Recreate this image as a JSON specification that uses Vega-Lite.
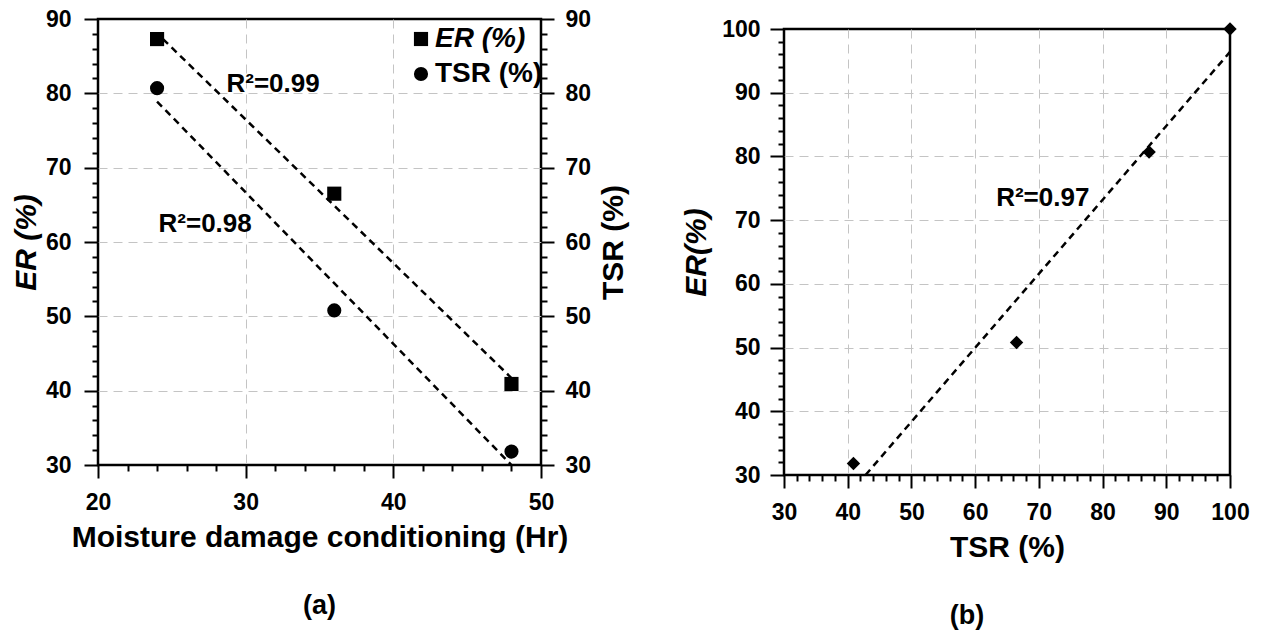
{
  "$schema": "https://vega.github.io/schema/vega-lite/v6.json",
  "background": "white",
  "padding": {"left": 10, "top": 6, "right": 5, "bottom": 5},
  "bounds": "flush",
  "spacing": 243,
  "config": {
    "font": "Liberation Sans",
    "view": {"stroke": "black", "strokeWidth": 2.5},
    "text": {"color": "black", "font": "Liberation Sans"},
    "axis": {
      "domain": false,
      "labelFont": "Liberation Sans", "labelFontSize": 23, "labelFontWeight": "bold", "labelColor": "black",
      "labelFlush": false, "labelOverlap": false,
      "titleFont": "Liberation Sans", "titleFontSize": 30, "titleFontWeight": "bold", "titleColor": "black",
      "tickColor": "black", "tickWidth": 2,
      "gridColor": "#c4c4c4", "gridDash": [9, 6], "gridWidth": 1
    }
  },
  "datasets": {
    "cond": [
      {"hr": 24, "series": "ER (%)", "value": 87.3},
      {"hr": 36, "series": "ER (%)", "value": 66.5},
      {"hr": 48, "series": "ER (%)", "value": 40.9},
      {"hr": 24, "series": "TSR (%)", "value": 80.7},
      {"hr": 36, "series": "TSR (%)", "value": 50.8},
      {"hr": 48, "series": "TSR (%)", "value": 31.8}
    ],
    "fitA": [
      {"hr": 24.4, "series": "ER", "value": 87.3},
      {"hr": 48, "series": "ER", "value": 41.7},
      {"hr": 24, "series": "TSR", "value": 78.9},
      {"hr": 48, "series": "TSR", "value": 30.0}
    ],
    "labelsA": [
      {"hr": 28.7, "value": 80.2, "text": "R²=0.99"},
      {"hr": 24.1, "value": 61.3, "text": "R²=0.98"}
    ],
    "pairs": [
      {"tsr": 40.9, "er": 31.8},
      {"tsr": 66.5, "er": 50.8},
      {"tsr": 87.3, "er": 80.7},
      {"tsr": 100, "er": 100}
    ],
    "fitB": [
      {"tsr": 42.8, "er": 30},
      {"tsr": 100, "er": 96.4}
    ],
    "labelB": [
      {"tsr": 63.3, "er": 72.2, "text": "R²=0.97"}
    ]
  },
  "hconcat": [
    {
      "width": 443, "height": 446,
      "title": {"text": "(a)", "orient": "bottom", "fontSize": 27, "fontWeight": "bold", "font": "Liberation Sans", "color": "black", "offset": 41},
      "layer": [
        {
          "data": {"name": "cond"},
          "mark": {"type": "point", "opacity": 0},
          "encoding": {
            "x": {"field": "hr", "type": "quantitative", "scale": {"domain": [20, 50], "nice": false, "zero": false},
              "axis": {"orient": "bottom", "grid": true, "values": [30, 40], "ticks": false, "labels": false, "domain": false, "title": null}},
            "y": {"field": "value", "type": "quantitative", "scale": {"domain": [30, 90], "nice": false, "zero": false},
              "axis": {"orient": "left", "grid": true, "values": [40, 50, 60, 70, 80], "ticks": false, "labels": false, "domain": false, "title": null}}
          }
        },
        {
          "encoding": {
            "x": {"field": "hr", "type": "quantitative", "scale": {"domain": [20, 50], "nice": false, "zero": false},
              "axis": {"title": "Moisture damage conditioning (Hr)", "orient": "bottom", "grid": false,
                "values": [20,22,24,26,28,30,32,34,36,38,40,42,44,46,48,50],
                "labelExpr": "datum.value % 10 === 0 ? datum.label : ''",
                "labelOverlap": false,
                "tickSize": {"condition": {"test": "datum.value % 10 === 0", "value": 13}, "value": 6},
                "labelPadding": 13, "titlePadding": 8}},
            "y": {"field": "value", "type": "quantitative", "scale": {"domain": [30, 90], "nice": false, "zero": false},
              "axis": {"title": "ER (%)", "titleFontStyle": "italic", "orient": "left", "grid": false,
                "values": [30,32,34,36,38,40,42,44,46,48,50,52,54,56,58,60,62,64,66,68,70,72,74,76,78,80,82,84,86,88,90],
                "labelExpr": "datum.value % 10 === 0 ? datum.label : ''",
                "labelOverlap": false,
                "tickSize": {"condition": {"test": "datum.value % 10 === 0", "value": 14}, "value": 6},
                "labelPadding": 13, "titlePadding": 4}}
          },
          "layer": [
            {
              "data": {"name": "fitA"},
              "mark": {"type": "line", "color": "black", "strokeWidth": 2.5, "strokeDash": [7, 5]},
              "encoding": {"detail": {"field": "series"}}
            },
            {
              "data": {"name": "cond"},
              "mark": {"type": "point", "filled": true, "color": "black", "opacity": 1, "size": 200},
              "encoding": {
                "shape": {"field": "series", "type": "nominal",
                  "scale": {"domain": ["ER (%)", "TSR (%)"], "range": ["square", "circle"]},
                  "legend": {"orient": "none", "legendX": 309, "legendY": 6, "title": null,
                    "labelFont": "Liberation Sans", "labelFontSize": 28, "labelFontWeight": "bold", "labelColor": "black",
                    "labelFontStyle": {"expr": "datum.label === 'ER (%)' ? 'italic' : 'normal'"},
                    "symbolSize": 200, "symbolFillColor": "black", "symbolStrokeColor": "black", "symbolStrokeWidth": 0,
                    "labelOffset": 0, "rowPadding": 7}}
              }
            },
            {
              "data": {"name": "labelsA"},
              "mark": {"type": "text", "fontSize": 26, "fontWeight": "bold", "align": "left", "baseline": "alphabetic", "color": "black"},
              "encoding": {"text": {"field": "text"}}
            }
          ]
        },
        {
          "data": {"name": "cond"},
          "mark": {"type": "point", "opacity": 0},
          "encoding": {
            "x": {"field": "hr", "type": "quantitative", "scale": {"domain": [20, 50], "nice": false, "zero": false}, "axis": null},
            "y": {"field": "value", "type": "quantitative", "scale": {"domain": [30, 90], "nice": false, "zero": false},
              "axis": {"title": "TSR (%)", "orient": "right", "titleAngle": 270, "titleBaseline": "top", "grid": false,
                "values": [30,32,34,36,38,40,42,44,46,48,50,52,54,56,58,60,62,64,66,68,70,72,74,76,78,80,82,84,86,88,90],
                "labelExpr": "datum.value % 10 === 0 ? datum.label : ''",
                "labelOverlap": false,
                "tickSize": {"condition": {"test": "datum.value % 10 === 0", "value": 13}, "value": 6},
                "labelPadding": 11, "titlePadding": 8}}
          }
        }
      ],
      "resolve": {"scale": {"x": "independent", "y": "independent"}}
    },
    {
      "bounds": "flush",
      "spacing": 9,
      "vconcat": [
        {
          "width": 446, "height": 1,
          "view": {"stroke": null},
          "data": {"name": "pairs"},
          "mark": {"type": "point", "opacity": 0},
          "encoding": {
            "x": {"field": "tsr", "type": "quantitative", "axis": null},
            "y": {"field": "er", "type": "quantitative", "axis": null}
          }
        },
        {
          "width": 446, "height": 446,
          "title": {"text": "(b)", "orient": "bottom", "fontSize": 27, "fontWeight": "bold", "font": "Liberation Sans", "color": "black", "offset": 41, "dx": -40},
          "layer": [
            {
              "data": {"name": "pairs"},
              "mark": {"type": "point", "opacity": 0},
              "encoding": {
                "x": {"field": "tsr", "type": "quantitative", "scale": {"domain": [30, 100], "nice": false, "zero": false},
                  "axis": {"orient": "bottom", "grid": true, "values": [40, 50, 60, 70, 80, 90], "ticks": false, "labels": false, "domain": false, "title": null}},
                "y": {"field": "er", "type": "quantitative", "scale": {"domain": [30, 100], "nice": false, "zero": false},
                  "axis": {"orient": "left", "grid": true, "values": [40, 50, 60, 70, 80, 90], "ticks": false, "labels": false, "domain": false, "title": null}}
              }
            },
            {
              "encoding": {
                "x": {"field": "tsr", "type": "quantitative", "scale": {"domain": [30, 100], "nice": false, "zero": false},
                  "axis": {"title": "TSR (%)", "orient": "bottom", "grid": false,
                    "values": [30,32,34,36,38,40,42,44,46,48,50,52,54,56,58,60,62,64,66,68,70,72,74,76,78,80,82,84,86,88,90,92,94,96,98,100],
                    "labelExpr": "datum.value % 10 === 0 ? datum.label : ''",
                    "labelOverlap": false,
                    "tickSize": {"condition": {"test": "datum.value % 10 === 0", "value": 13}, "value": 6},
                    "labelPadding": 13, "titlePadding": 8}},
                "y": {"field": "er", "type": "quantitative", "scale": {"domain": [30, 100], "nice": false, "zero": false},
                  "axis": {"title": "ER(%)", "titleFontStyle": "italic", "orient": "left", "grid": false,
                    "values": [30,32,34,36,38,40,42,44,46,48,50,52,54,56,58,60,62,64,66,68,70,72,74,76,78,80,82,84,86,88,90,92,94,96,98,100],
                    "labelExpr": "datum.value % 10 === 0 ? datum.label : ''",
                    "labelOverlap": false,
                    "tickSize": {"condition": {"test": "datum.value % 10 === 0", "value": 14}, "value": 6},
                    "labelPadding": 10, "titlePadding": 10}}
              },
              "layer": [
                {
                  "data": {"name": "fitB"},
                  "mark": {"type": "line", "color": "black", "strokeWidth": 2.5, "strokeDash": [7, 5]},
                  "encoding": {}
                },
                {
                  "data": {"name": "pairs"},
                  "mark": {"type": "point", "shape": "diamond", "filled": true, "color": "black", "opacity": 1, "size": 180}
                },
                {
                  "data": {"name": "labelB"},
                  "mark": {"type": "text", "fontSize": 26, "fontWeight": "bold", "align": "left", "baseline": "alphabetic", "color": "black"},
                  "encoding": {"text": {"field": "text"}}
                }
              ]
            }
          ],
          "resolve": {"scale": {"x": "independent", "y": "independent"}}
        }
      ]
    }
  ]
}
